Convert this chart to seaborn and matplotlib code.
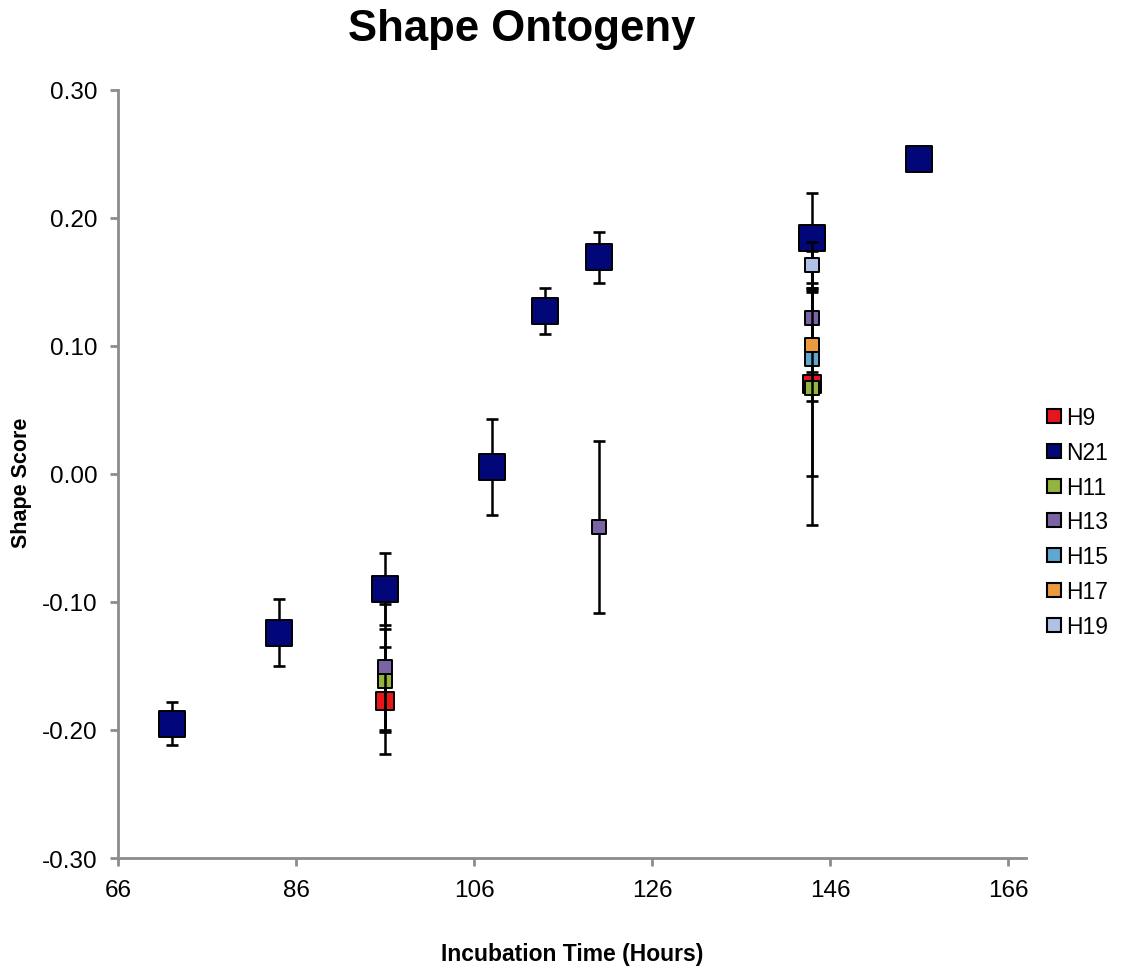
import matplotlib
matplotlib.use("Agg")
import matplotlib.pyplot as plt
import seaborn as sns
import pandas as pd
from matplotlib.lines import Line2D

# ---- data ----
series_order = ["H9", "N21", "H11", "H13", "H15", "H17", "H19"]

N21_x = [72, 84, 96, 108, 114, 120, 144, 156]
N21_y = [-0.195, -0.124, -0.090, 0.005, 0.127, 0.169, 0.184, 0.246]
N21_err = [0.017, 0.026, 0.028, 0.0375, 0.018, 0.020, 0.035, 0.0]

H9_x = [96, 144]
H9_y = [-0.177, 0.070]
H9_err = [0.042, 0.072]

H11_x = [96, 144]
H11_y = [-0.1615, 0.067]
H11_err = [0.040, 0.107]

H13_x = [96, 120, 144]
H13_y = [-0.151, -0.0415, 0.1215]
H13_err = [0.049, 0.067, 0.022]

H15_x = [144]
H15_y = [0.0895]
H15_err = [0.010]

H17_x = [144]
H17_y = [0.101]
H17_err = [0.044]

H19_x = [144]
H19_y = [0.163]
H19_err = [0.018]

x_ticks = [66, 86, 106, 126, 146, 166]
y_ticks = [-0.30, -0.20, -0.10, 0.00, 0.10, 0.20, 0.30]

colors = {
    "H9": "#E8151D",
    "N21": "#010778",
    "H11": "#93B43E",
    "H13": "#7A64A3",
    "H15": "#5FA7CF",
    "H17": "#EC9A3E",
    "H19": "#AFC1E7",
}
sizes = {"H9": 175, "N21": 360, "H11": 100, "H13": 100, "H15": 100, "H17": 100, "H19": 100}

raw = {
    "H9": (H9_x, H9_y, H9_err),
    "N21": (N21_x, N21_y, N21_err),
    "H11": (H11_x, H11_y, H11_err),
    "H13": (H13_x, H13_y, H13_err),
    "H15": (H15_x, H15_y, H15_err),
    "H17": (H17_x, H17_y, H17_err),
    "H19": (H19_x, H19_y, H19_err),
}
rows = []
for s in series_order:
    xs, ys, es = raw[s]
    for x, y, e in zip(xs, ys, es):
        rows.append({"series": s, "x": x, "y": y, "err": e})
df = pd.DataFrame(rows)

# ---- figure ----
sns.set_style("white")
plt.rcParams["font.family"] = ["Liberation Sans", "DejaVu Sans"]
plt.rcParams["text.color"] = "black"

fig = plt.figure(figsize=(11.25, 9.70), dpi=100)
ax = fig.add_axes([0.1052, 0.1144, 0.912 - 0.1052, 0.9065 - 0.1144])

z = 3
for s in series_order:
    d = df[df["series"] == s]
    ax.errorbar(d["x"], d["y"], yerr=d["err"], fmt="none", ecolor="black",
                elinewidth=1.8, capsize=4.5, capthick=1.9, zorder=z)
    sns.scatterplot(data=d, x="x", y="y", marker="s", s=sizes[s],
                    color=colors[s], edgecolor="black", linewidth=1.4,
                    ax=ax, zorder=z + 1, legend=False)
    z += 2

ax.set_xlim(66, 168)
ax.set_ylim(-0.30, 0.30)
ax.set_xticks(x_ticks)
ax.set_yticks(y_ticks)
ax.set_yticklabels([f"{v:.2f}" for v in y_ticks])
ax.set_xticklabels([str(v) for v in x_ticks])
ax.tick_params(axis="both", labelsize=17.5, labelcolor="black", length=6, width=2,
               direction="out", pad=9, color="#8C8C8C", bottom=True, left=True)
for sp in ["top", "right"]:
    ax.spines[sp].set_visible(False)
for sp in ["left", "bottom"]:
    ax.spines[sp].set_color("#8C8C8C")
    ax.spines[sp].set_linewidth(2)
ax.set_xlabel("")
ax.set_ylabel("")

fig.text(0.464, 1 - 30 / 970, "Shape Ontogeny", ha="center", va="center",
         fontsize=31.5, fontweight="bold", color="black")
fig.text(22 / 1125, 1 - 483 / 970, "Shape Score", ha="center", va="center",
         rotation=90, fontsize=15.5, fontweight="bold", color="black")
fig.text(572 / 1125, 1 - 955 / 970, "Incubation Time (Hours)", ha="center",
         va="center", fontsize=16.5, fontweight="bold", color="black")

handles = [Line2D([0], [0], marker="s", linestyle="none", markersize=10,
                  markerfacecolor=colors[s], markeredgecolor="black",
                  markeredgewidth=1.5, label=s) for s in series_order]
leg = fig.legend(handles=handles, loc="center left",
                 bbox_to_anchor=(1036 / 1125, 1 - 523 / 970),
                 frameon=False, fontsize=16.5, handlelength=0.6, handletextpad=0.2,
                 labelspacing=0.52, borderpad=0)
for t in leg.get_texts():
    t.set_color("black")

fig.savefig("out.png", dpi=100)
